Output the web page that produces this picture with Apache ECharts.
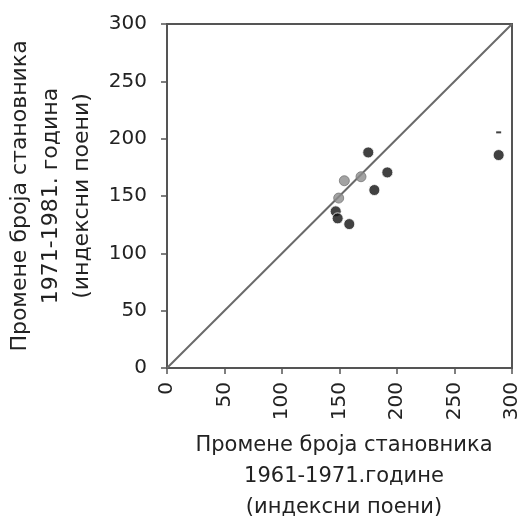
<!DOCTYPE html>
<html>
<head>
<meta charset="utf-8">
<script src="https://cdn.jsdelivr.net/npm/echarts@6/dist/echarts.min.js"></script>
<style>html,body{margin:0;padding:0;background:#fff}#c{width:521px;height:521px}</style>
</head>
<body>
<div id="c"></div>
<script>
const blackX = [175, 191.6, 180.3, 146.7, 148.4, 158.5, 288.4];
const blackY = [188, 170.6, 155.2, 136.6, 130.5, 125.5, 185.7];
const grayX = [154.2, 168.7, 149.3];
const grayY = [163.3, 166.8, 148.2];
const markX = [288.4];
const markY = [205.5];
const diagX = [0, 300];
const diagY = [0, 300];
const xTitle = 'Промене броја становника\n1961-1971.године\n(индексни поени)';
const yTitle = 'Промене броја становника\n1971-1981. година\n(индексни поени)';

const zip = (a, b) => a.map((v, i) => [v, b[i]]);
const font = 'DejaVu Sans, Liberation Sans, Arial, sans-serif';
const chart = echarts.init(document.getElementById('c'));
chart.setOption({
  animation: false,
  grid: {left: 167, right: 9, top: 24, bottom: 153, containLabel: false, outerBoundsMode: 'none',
         show: true, borderColor: '#555', borderWidth: 2},
  xAxis: {
    type: 'value', min: 0, max: 300, interval: 50,
    axisLine: {show: true, lineStyle: {color: '#555', width: 2}},
    axisTick: {show: true, length: 6, lineStyle: {color: '#555', width: 1.5}},
    splitLine: {show: false},
    axisLabel: {rotate: 90, color: '#222', fontSize: 20, fontFamily: font, margin: 14},
    name: xTitle, nameLocation: 'middle', nameGap: 62,
    nameTextStyle: {color: '#222', fontSize: 21, fontFamily: font, lineHeight: 31, verticalAlign: 'top', padding: [0, 0, 0, 9]}
  },
  yAxis: {
    type: 'value', min: 0, max: 300, interval: 50,
    axisLine: {show: true, lineStyle: {color: '#555', width: 2}},
    axisTick: {show: true, length: 6, lineStyle: {color: '#555', width: 1.5}},
    splitLine: {show: false},
    axisLabel: {color: '#222', fontSize: 20, fontFamily: font, margin: 20},
    name: yTitle, nameLocation: 'middle', nameRotate: 90, nameGap: 66,
    nameTextStyle: {color: '#222', fontSize: 22, fontFamily: font, lineHeight: 31}
  },
  series: [
    {type: 'line', data: zip(diagX, diagY), symbol: 'none', lineStyle: {color: '#6a6a6a', width: 2}, z: 1},
    {type: 'scatter', data: zip(grayX, grayY), symbolSize: 10, itemStyle: {color: '#8c8c8c', borderColor: '#777', borderWidth: 1}, z: 3},
    {type: 'scatter', data: zip(blackX, blackY), symbolSize: 11, itemStyle: {color: '#111', borderColor: '#fff', borderWidth: 1}, z: 4},
    {type: 'scatter', data: zip(markX, markY), symbol: 'rect', symbolSize: [5, 2], itemStyle: {color: '#111'}, z: 4}
  ]
});
</script>
</body>
</html>
